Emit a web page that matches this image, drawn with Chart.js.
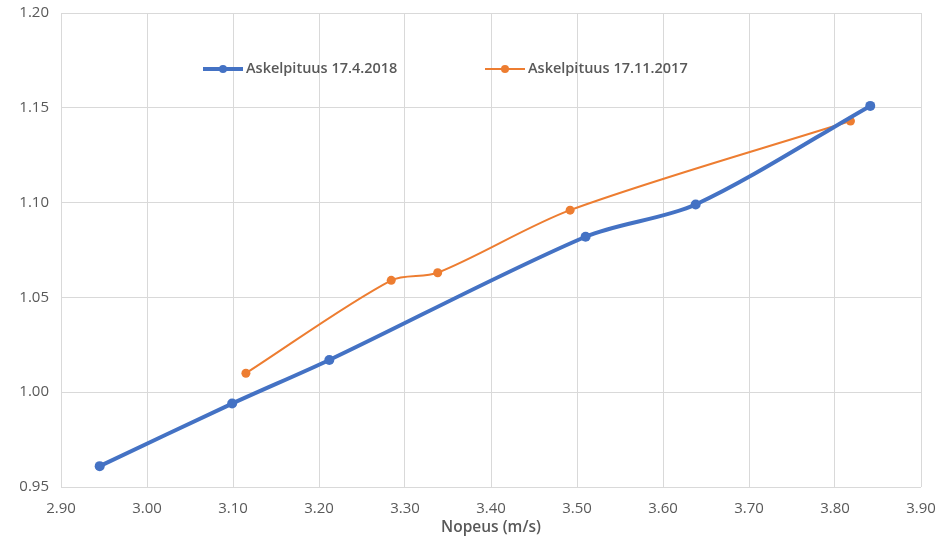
<!DOCTYPE html>
<html>
<head>
<meta charset="utf-8">
<script src="https://cdn.jsdelivr.net/npm/chart.js@4/dist/chart.umd.min.js"></script>
<style>
  html, body { margin: 0; padding: 0; background: #fff; }
  #wrap { width: 937px; height: 541px; position: relative; }
</style>
</head>
<body>
<div id="wrap"><canvas id="chart"></canvas></div>
<script>
// Values
const speeds2018 = [2.945, 3.099, 3.212, 3.510, 3.638, 3.841];
const lengths2018 = [0.961, 0.994, 1.017, 1.082, 1.099, 1.151];
const speeds2017 = [3.115, 3.284, 3.338, 3.492, 3.818];
const lengths2017 = [1.010, 1.059, 1.063, 1.096, 1.143];
const labels = ['Askelpituus 17.4.2018', 'Askelpituus 17.11.2017'];
const xTicks = [2.9, 3.0, 3.1, 3.2, 3.3, 3.4, 3.5, 3.6, 3.7, 3.8, 3.9];
const yTicks = [0.95, 1.0, 1.05, 1.1, 1.15, 1.2];

const blue = '#4472C4';
const orange = '#ED7D31';
const grey = '#595959';
const font = '"Open Sans", "Liberation Sans", sans-serif';

const toPoints = (xs, ys) => xs.map((x, i) => ({x: x, y: ys[i]}));

// legend drawn inside the plot area, like the original
const innerLegend = {
  id: 'innerLegend',
  afterDatasetsDraw(chart){
    const c = chart.ctx;
    const spots = [203, 485];
    c.save();
    c.font = '600 14.5px ' + font;
    c.textBaseline = 'middle';
    chart.data.datasets.forEach((ds, i) => {
      const x = spots[i], y = 69;
      c.strokeStyle = ds.borderColor;
      c.lineWidth = ds.borderWidth;
      c.beginPath(); c.moveTo(x, y); c.lineTo(x + 40, y); c.stroke();
      c.fillStyle = ds.borderColor;
      c.beginPath(); c.arc(x + 20, y, 4, 0, Math.PI * 2); c.fill();
      c.fillStyle = grey;
      c.fillText(ds.label, x + 43, y);
    });
    c.restore();
  }
};

new Chart(document.getElementById('chart'), {
  type: 'scatter',
  data: {
    datasets: [{
      label: labels[0],
      data: toPoints(speeds2018, lengths2018),
      showLine: true,
      borderColor: blue,
      backgroundColor: blue,
      borderWidth: 4,
      pointRadius: 5,
      pointBorderWidth: 0,
      pointHoverRadius: 5,
      tension: 0.3
    }, {
      label: labels[1],
      data: toPoints(speeds2017, lengths2017),
      showLine: true,
      borderColor: orange,
      backgroundColor: orange,
      borderWidth: 2,
      pointRadius: 4.5,
      pointBorderWidth: 0,
      pointHoverRadius: 4.5,
      tension: 0.3
    }]
  },
  options: {
    responsive: true,
    maintainAspectRatio: false,
    animation: false,
    layout: { padding: { top: 13, right: 16, left: 0, bottom: 0 } },
    plugins: { legend: { display: false }, tooltip: { enabled: false } },
    scales: {
      x: {
        type: 'linear',
        min: xTicks[0],
        max: xTicks[xTicks.length - 1],
        afterBuildTicks: s => { s.ticks = xTicks.map(v => ({value: v})); },
        afterFit: s => { s.height = 54; s.paddingRight = 0; s.paddingLeft = 0; },
        grid: { color: '#d9d9d9', drawTicks: false },
        border: { display: false },
        ticks: { color: grey, padding: 13, font: { family: font, size: 15 }, callback: v => v.toFixed(2) },
        title: { display: true, text: 'Nopeus (m/s)', color: grey, padding: { top: 0 }, font: { family: font, size: 15.5, weight: '600' } }
      },
      y: {
        min: yTicks[0],
        max: yTicks[yTicks.length - 1],
        afterBuildTicks: s => { s.ticks = yTicks.map(v => ({value: v})); },
        afterFit: s => { s.width = 61; s.paddingTop = 0; s.paddingBottom = 0; },
        grid: { color: '#d9d9d9', drawTicks: false },
        border: { display: false },
        ticks: { color: grey, padding: 12, font: { family: font, size: 15 }, callback: v => v.toFixed(2) }
      }
    }
  },
  plugins: [innerLegend]
});
</script>
</body>
</html>
